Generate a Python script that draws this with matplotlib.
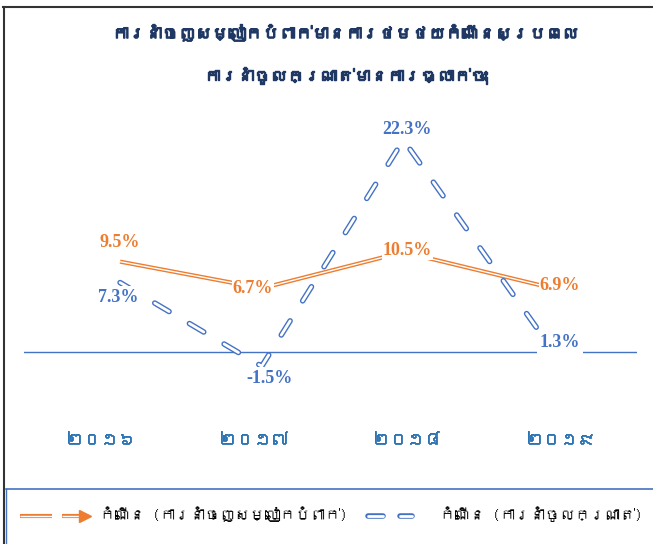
import matplotlib
matplotlib.use("Agg")
import matplotlib.pyplot as plt
import matplotlib.patheffects as pe
from matplotlib import font_manager
from matplotlib.ft2font import FT2Font
from matplotlib.lines import Line2D

# data
years = ["២០១៦", "២០១៧", "២០១៨", "២០១៩"]
export_growth = [9.5, 6.7, 10.5, 6.9]     # garments export
import_growth = [7.3, -1.5, 22.3, 1.3]    # fabric import
title_lines = ["ការនាំចេញសម្លៀកបំពាក់មានការថមថយកំណើនស្របពេល",
               "ការនាំចូលក្រណាត់មានការធ្លាក់ចុះ"]
legend_labels = ["កំណើន (ការនាំចេញសម្លៀកបំពាក់)", "កំណើន (ការនាំចូលក្រណាត់)"]

ORANGE = "#ED7D31"
BLUE = "#4472C4"
NAVY = "#1F3864"
TICKBLUE = "#2E75B6"


# look for any installed font that can draw Khmer, fall back to DejaVu
def find_khmer_family():
    for f in font_manager.fontManager.ttflist:
        if "CJK" in f.name:
            continue
        try:
            if 0x1780 in FT2Font(f.fname).get_charmap():
                return f.name
        except Exception:
            pass
    return None


kh = find_khmer_family()
kh_family = [kh, "DejaVu Sans"] if kh else ["DejaVu Sans"]
plt.rcParams["lines.scale_dashes"] = False

W, H = 653, 544
fig = plt.figure(figsize=(W / 100, H / 100), dpi=100)


def fx(px):
    return px / W


def fy(py):
    return 1 - py / H


# plot area in pixels
left, right, top, bottom = 24, 637, 100, 400
ax = fig.add_axes([fx(left), fy(bottom), fx(right - left), (bottom - top) / H])
ax.axis("off")
ax.set_ylim(-5.05, 26.5)
ax.set_xlim(-0.678, 3.649)

xs = list(range(len(years)))

ax.axhline(0, color=BLUE, lw=1.0, zorder=1)

# orange double line
ax.plot(xs, export_growth, color=ORANGE, lw=3.0, solid_capstyle="butt", zorder=2)
ax.plot(xs, export_growth, color="white", lw=1.0, solid_capstyle="butt", zorder=3)

# blue outlined dashes
ax.plot(xs, import_growth, color=BLUE, lw=4.0, dashes=(12, 17),
        dash_capstyle="round", zorder=4)
ax.plot(xs, import_growth, color="white", lw=2.0, dashes=(12, 17),
        dash_capstyle="round", zorder=5)

# data labels (offsets in px)
exp_off = [(0, 19), (-9, 0), (4, 2), (15, 1)]
imp_off = [(-2, -15), (8, -12), (4, 10), (15, -3)]
for x, v, (dx, dy) in zip(xs, export_growth, exp_off):
    ax.annotate(f"{v}%", (x, v), xytext=(dx * 0.72, dy * 0.72),
                textcoords="offset points", ha="center", va="center",
                color=ORANGE, fontsize=13, fontweight="bold",
                family="Liberation Serif", zorder=6,
                bbox=dict(boxstyle="square,pad=0.05", fc="white", ec="none"))
for x, v, (dx, dy) in zip(xs, import_growth, imp_off):
    ax.annotate(f"{v}%", (x, v), xytext=(dx * 0.72, dy * 0.72),
                textcoords="offset points", ha="center", va="center",
                color=BLUE, fontsize=13, fontweight="bold",
                family="Liberation Serif", zorder=6,
                bbox=dict(boxstyle="square,pad=0.15", fc="white", ec="none"))

# category labels sit in the middle of each band, on a row below the plot
x0, x1 = ax.get_xlim()
band = (x1 - x0) / len(years)
row = -(440 - bottom) / (bottom - top)
for i, yr in enumerate(years):
    ax.text(x0 + (i + 0.5) * band, row, yr, transform=ax.get_xaxis_transform(),
            ha="center", va="center", fontsize=12.5, color=TICKBLUE,
            family=kh_family,
            path_effects=[pe.withStroke(linewidth=0.6, foreground=TICKBLUE)])

# title
bold = [pe.withStroke(linewidth=1.0, foreground=NAVY)]
fig.text(fx(345), fy(33), title_lines[0], ha="center", va="center",
         fontsize=12, color=NAVY, family=kh_family, path_effects=bold)
fig.text(fx(345), fy(75), title_lines[1], ha="center", va="center",
         fontsize=12, color=NAVY, family=kh_family, path_effects=bold)

# outer frame and legend box
fig.add_artist(Line2D([fx(3), 1], [fy(7), fy(7)], color="#333333", lw=1.5))
fig.add_artist(Line2D([fx(4), fx(4)], [fy(7), 0], color="#333333", lw=1.5))
fig.add_artist(Line2D([fx(6), 1], [fy(489), fy(489)], color=BLUE, lw=1.2))
fig.add_artist(Line2D([fx(6), fx(6)], [fy(489), 0], color=BLUE, lw=1.0))

# legend drawn by hand
lg = fig.add_axes([0, 0, 1, 1])
lg.axis("off")
lg.set_xlim(0, W)
lg.set_ylim(H, 0)
ly = 516
lg.plot([20, 52], [ly, ly], color=ORANGE, lw=3.0, solid_capstyle="butt")
lg.plot([20, 52], [ly, ly], color="white", lw=1.0, solid_capstyle="butt")
lg.plot([62, 82], [ly, ly], color=ORANGE, lw=3.0, solid_capstyle="butt")
lg.plot([62, 82], [ly, ly], color="white", lw=1.0, solid_capstyle="butt")
lg.plot([85], [ly], marker=">", ms=9, color=ORANGE, mec=ORANGE)
lg.text(100, ly - 2, legend_labels[0], ha="left", va="center", fontsize=10.8,
        color="black", family=kh_family)
for a, b in [(368, 383), (400, 412)]:
    lg.plot([a, b], [ly, ly], color=BLUE, lw=4.0, solid_capstyle="round")
    lg.plot([a, b], [ly, ly], color="white", lw=2.0, solid_capstyle="round")
lg.text(440, ly - 2, legend_labels[1], ha="left", va="center", fontsize=10.8,
        color="black", family=kh_family)

fig.savefig("out.png", dpi=100)
